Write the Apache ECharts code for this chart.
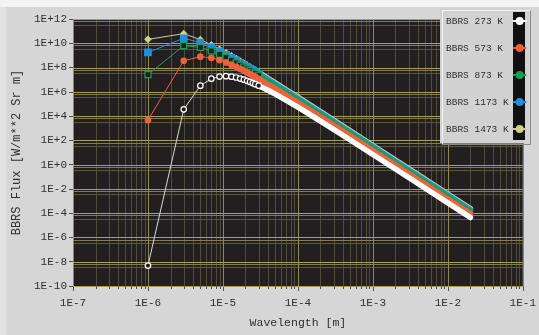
<!DOCTYPE html>
<html>
<head>
<meta charset="utf-8">
<script src="https://cdn.jsdelivr.net/npm/echarts@6/dist/echarts.min.js"></script>
<style>
html,body{margin:0;padding:0;background:#d6d6d6;}
#chart{width:539px;height:335px;}
</style>
</head>
<body>
<div id="chart"></div>
<script>
// ---- data ----
const wavelengths = [1e-6, 3e-6, 5e-6, 7e-6, 9e-6, 1.1e-5, 1.3e-5, 1.5e-5, 1.7e-5, 1.9e-5, 2.1e-5, 2.3e-5, 2.5e-5, 2.7e-5, 3e-5, 4e-5, 5e-5, 7e-5, 1e-4, 2e-4, 5e-4, 1e-3, 2e-3, 5e-3, 1e-2, 2e-2];
const flux273K  = [4.8e-9, 3.6e4, 3.2e6, 1.2e7, 1.8e7, 1.95e7, 1.78e7, 1.51e7, 1.24e7, 1.01e7, 8.1e6, 6.5e6, 5.3e6, 4.3e6, 3.2e6, 1.34e6, 6.4e5, 1.98e5, 5.4e4, 3.9e3, 108, 6.9, 0.44, 1.13e-2, 7.1e-4, 4.4e-5];
const flux573K  = [4.7e3, 3.6e8, 7.9e8, 6.3e8, 4.1e8, 2.64e8, 1.71e8, 1.14e8, 7.8e7, 5.5e7, 3.97e7, 2.94e7, 2.21e7, 1.70e7, 1.18e7, 4.2e6, 1.84e6, 5.2e5, 1.31e5, 8.7e3, 233, 14.7, 0.93, 2.4e-2, 1.49e-3, 9.3e-5];
const flux873K  = [2.6e7, 6.4e9, 4.6e9, 2.34e9, 1.21e9, 6.7e8, 3.95e8, 2.46e8, 1.61e8, 1.09e8, 7.7e7, 5.55e7, 4.1e7, 3.1e7, 2.1e7, 7.2e6, 3.07e6, 8.4e5, 2.09e5, 1.36e4, 357, 22.5, 1.41, 3.6e-2, 2.27e-3, 1.42e-4];
const flux1173K = [1.76e9, 2.6e10, 1.13e10, 4.7e9, 2.18e9, 1.13e9, 6.4e8, 3.9e8, 2.49e8, 1.67e8, 1.15e8, 8.25e7, 6.05e7, 4.5e7, 3.05e7, 1.02e7, 4.3e6, 1.16e6, 2.87e5, 1.85e4, 482, 30.3, 1.9, 4.9e-2, 3.05e-3, 1.9e-4];
const flux1473K = [2.1e10, 6.2e10, 1.98e10, 7.3e9, 3.2e9, 1.62e9, 9.0e8, 5.4e8, 3.4e8, 2.25e8, 1.55e8, 1.1e8, 8.0e7, 6.0e7, 4.0e7, 1.32e7, 5.5e6, 1.49e6, 3.65e5, 2.34e4, 607, 38, 2.39, 6.1e-2, 3.8e-3, 2.4e-4];
const seriesNames = ['BBRS 273 K', 'BBRS 573 K', 'BBRS 873 K', 'BBRS 1173 K', 'BBRS 1473 K'];
const seriesValues = [flux273K, flux573K, flux873K, flux1173K, flux1473K];
const xTickLabels = ['1E-7', '1E-6', '1E-5', '1E-4', '1E-3', '1E-2', '1E-1'];
const yTickLabels = ['1E-10', '1E-8', '1E-6', '1E-4', '1E-2', '1E+0', '1E+2', '1E+4', '1E+6', '1E+8', '1E+10', '1E+12'];
const xTitle = 'Wavelength [m]';
const yTitle = 'BBRS Flux [W/m**2 Sr m]';

// ---- styling ----
const FONT = 'Liberation Mono';
const TEXT = '#303030';
const PLOT_BG = '#231f20';
const X_MIN = 1e-7, X_MAX = 1e-1, Y_MIN = 1e-10, Y_MAX = 1e12;
const MARK_END = 14;   // last index drawn with separate markers
const BAND_START = 12; // from here the dense markers merge into a band
const styles = [
  {line: '#d8d8d8', color: '#ffffff', symbol: 'circle',  size: 5.5, fill: PLOT_BG,   border: '#ffffff', z: 10},
  {line: '#f0603c', color: '#f0603c', symbol: 'circle',  size: 5.5, fill: '#f0603c', border: '#f0603c', z: 9},
  {line: '#14a050', color: '#14a050', symbol: 'rect',    size: 6,   fill: PLOT_BG,   border: '#14a050', z: 8},
  {line: '#2090dc', color: '#2090dc', symbol: 'rect',    size: 6.5, fill: '#2090dc', border: '#2090dc', z: 7},
  {line: '#cfcf8a', color: '#cfcf8a', symbol: 'diamond', size: 6,   fill: '#cfcf8a', border: '#cfcf8a', z: 6}
];

function labelMap(labels) {
  const m = {};
  labels.forEach(l => { m[parseInt(l.split('E')[1], 10)] = l; });
  return v => { const e = Math.round(Math.log10(v)); return m[e] !== undefined ? m[e] : ''; };
}
const maxNameLen = Math.max.apply(null, seriesNames.map(n => n.length));
const padName = n => n + '\u00a0'.repeat(maxNameLen - n.length);

// grid line positions
const decadesX = xTickLabels.map(l => Math.pow(10, parseInt(l.split('E')[1], 10)));
const xMinor = [];
decadesX.slice(0, -1).forEach(d => { for (let m = 2; m <= 9; m++) xMinor.push(m * d); });
const yMajor = yTickLabels.map(l => Math.pow(10, parseInt(l.split('E')[1], 10)));
const yMinorA = yMajor.slice(1).map(v => v * 0.66);
const yMinorB = yMajor.slice(1).map(v => v * 0.35);

function vLines(values, color, z) {
  return {
    type: 'custom', silent: true, z: z, animation: false,
    data: values.map(v => [v, Y_MIN]),
    renderItem: (p, api) => {
      const a = api.coord([api.value(0), Y_MAX]);
      const b = api.coord([api.value(0), Y_MIN]);
      const x = Math.round(a[0]) + 0.5;
      return {type: 'line', shape: {x1: x, y1: a[1], x2: x, y2: b[1]}, style: {stroke: color, lineWidth: 1}};
    }
  };
}
function hLines(values, color, z) {
  return {
    type: 'custom', silent: true, z: z, animation: false,
    data: values.map(v => [X_MIN, v]),
    renderItem: (p, api) => {
      const a = api.coord([X_MIN, api.value(1)]);
      const b = api.coord([X_MAX, api.value(1)]);
      const y = Math.round(a[1]) + 0.5;
      return {type: 'line', shape: {x1: a[0], y1: y, x2: b[0], y2: y}, style: {stroke: color, lineWidth: 1}};
    }
  };
}
function minorTicks(values) {
  return {
    type: 'custom', silent: true, z: 3, clip: false, animation: false,
    data: values.map(v => [v, Y_MIN]),
    renderItem: (p, api) => {
      const a = api.coord([api.value(0), Y_MIN]);
      const x = Math.round(a[0]) + 0.5;
      return {type: 'line', shape: {x1: x, y1: a[1], x2: x, y2: a[1] + 3}, style: {stroke: '#505050', lineWidth: 1}};
    }
  };
}

const series = [
  vLines(xMinor, '#4f4c3c', 1),
  hLines(yMinorB, '#5a5640', 1),
  hLines(yMinorA, '#837e4c', 1),
  vLines(decadesX, '#8f8a4e', 1),
  hLines(yMajor, '#a8a257', 1),
  minorTicks(xMinor)
];
seriesNames.forEach((name, i) => {
  const s = styles[i];
  const vals = seriesValues[i];
  series.push({
    name: name, type: 'line', z: s.z, animation: false,
    data: wavelengths.slice(BAND_START).map((w, j) => [w, vals[BAND_START + j]]),
    symbol: 'none', lineStyle: {color: s.color, width: 5.5, cap: 'round', join: 'round'},
    itemStyle: {color: s.color}
  });
  series.push({
    name: name, type: 'line', z: s.z, animation: false,
    data: wavelengths.slice(0, MARK_END + 1).map((w, j) => [w, vals[j]]),
    symbol: s.symbol, symbolSize: s.size, showSymbol: true,
    lineStyle: {color: s.line, width: 1},
    itemStyle: {color: s.fill, borderColor: s.border, borderWidth: 1.2}
  });
});

const chart = echarts.init(document.getElementById('chart'), null, {renderer: 'canvas'});
chart.setOption({
  backgroundColor: '#d6d6d6',
  animation: false,
  grid: {left: 73, right: 12, top: 19, bottom: 49, show: true, backgroundColor: PLOT_BG, borderWidth: 0},
  xAxis: {
    type: 'log', logBase: 10, min: X_MIN, max: X_MAX, interval: 1,
    name: xTitle, nameLocation: 'middle', nameGap: 31,
    nameTextStyle: {fontFamily: FONT, fontSize: 11.5, color: TEXT},
    axisLine: {show: false},
    axisTick: {show: true, length: 5, lineStyle: {color: '#505050'}},
    axisLabel: {formatter: labelMap(xTickLabels), fontFamily: FONT, fontSize: 11, color: TEXT, margin: 12},
    splitLine: {show: false}, minorTick: {show: false}
  },
  yAxis: {
    type: 'log', logBase: 10, min: Y_MIN, max: Y_MAX, interval: 2,
    name: yTitle, nameLocation: 'middle', nameGap: 38,
    nameTextStyle: {fontFamily: FONT, fontSize: 12, color: TEXT},
    axisLine: {show: false},
    axisTick: {show: true, length: 4, lineStyle: {color: '#505050'}},
    axisLabel: {formatter: labelMap(yTickLabels), fontFamily: FONT, fontSize: 11, color: TEXT, margin: 6},
    splitLine: {show: false}
  },
  legend: {
    data: seriesNames, orient: 'vertical', left: 446, top: 15, padding: 0,
    itemGap: 15, itemWidth: 12, itemHeight: 10, itemTextGap: 3, align: 'right',
    selectedMode: false, z: 30,
    formatter: padName,
    textStyle: {fontFamily: FONT, fontSize: 9.5, color: TEXT, lineHeight: 12}
  },
  graphic: {elements: [
    {type: 'rect', left: 0, top: 0, shape: {width: 539, height: 7}, style: {fill: '#f4f4f4'}, z: 0, silent: true},
    {type: 'rect', left: 0, top: 7, shape: {width: 6, height: 328}, style: {fill: '#e2e2e2'}, z: 0, silent: true},
    {type: 'rect', left: 440, top: 8, shape: {width: 89, height: 135}, style: {fill: '#d2d2d2'}, z: 20, silent: true},
    {type: 'polyline', left: 440, top: 8, shape: {points: [[0.5, 134.5], [0.5, 0.5], [88.5, 0.5]]}, style: {stroke: '#f2f2f2', fill: null, lineWidth: 1}, z: 21, silent: true},
    {type: 'polyline', left: 440, top: 8, shape: {points: [[0.5, 134.5], [88.5, 134.5], [88.5, 0.5]]}, style: {stroke: '#8a8a8a', fill: null, lineWidth: 1}, z: 21, silent: true},
    {type: 'rect', left: 513, top: 12, shape: {width: 12, height: 128}, style: {fill: '#111111'}, z: 22, silent: true}
  ]},
  series: series
});
</script>
</body>
</html>
